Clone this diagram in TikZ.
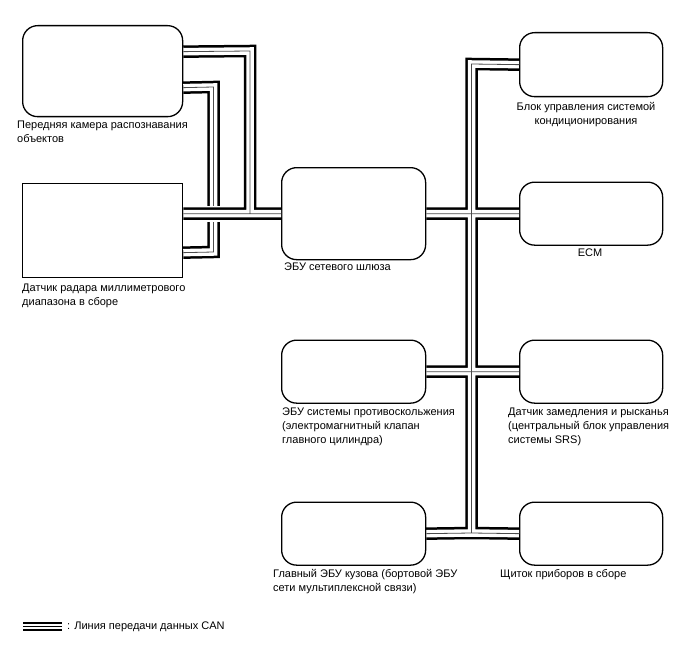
\documentclass[tikz,border=0pt]{standalone}
\usepackage{fontspec}
\setmainfont{Liberation Sans}
\usetikzlibrary{positioning}

\begin{document}
\begin{tikzpicture}[
  x=1pt, y=-1pt,
  font=\fontsize{11}{14}\selectfont,
  unit/.style={draw, line width=1.3pt, rounded corners=15pt, anchor=north west,
               inner sep=0pt},
  plainunit/.style={unit, rounded corners=0pt},
  lbl/.style={anchor=north west, align=left, inner sep=0pt},
  clbl/.style={lbl, anchor=north, align=center},
  canblk/.style={line width=12.5pt, black},
  canwht/.style={line width=7.5pt, white},
  canmid/.style={line width=0.8pt, black!70},
  cangap/.style={line width=16pt, white}
]
\useasboundingbox (0,0) rectangle (688,658);

% Nodes
\node[unit, minimum width=160pt, minimum height=91pt] (cam) at (22,25) {};
\node[plainunit, minimum width=160pt, minimum height=94pt] (rad) at (22,183) {};
\node[unit, minimum width=144pt, minimum height=92pt] (gw) at (281,167) {};
\node[unit, minimum width=144pt, minimum height=63pt] (abs) at (281,339.5) {};
\node[unit, minimum width=144pt, minimum height=63pt] (body) at (281,501.5) {};
\node[unit, minimum width=143pt, minimum height=64pt] (acu) at (519,32) {};
\node[unit, minimum width=143pt, minimum height=63pt] (ecm) at (519,181.5) {};
\node[unit, minimum width=143pt, minimum height=63pt] (yaw) at (519,339.5) {};
\node[unit, minimum width=143pt, minimum height=63pt] (inst) at (519,501.5) {};

% Labels
\node[lbl] (camlbl) at (17,121) {Передняя камера распознавания\\объектов};
\node[lbl] (radlbl) at (22,284) {Датчик радара миллиметрового\\диапазона в сборе};
\node[lbl] (gwlbl) at (284,263) {ЭБУ сетевого шлюза};
\node[clbl] (aculbl) at (586,102) {Блок управления системой\\кондиционирования};
\node[clbl] (ecmlbl) at (590,249) {ECM};
\node[lbl] (abslbl) at (282,408) {ЭБУ системы противоскольжения\\(электромагнитный клапан\\главного цилиндра)};
\node[lbl] (yawlbl) at (508,408) {Датчик замедления и рысканья\\(центральный блок управления\\системы SRS)};
\node[lbl] (bodylbl) at (273,569) {Главный ЭБУ кузова (бортовой ЭБУ\\сети мультиплексной связи)};
\node[lbl] (instlbl) at (500,569) {Щиток приборов в сборе};

% Bends of the CAN lines
\coordinate (ka) at (250,51);
\coordinate (kd) at (250,213);
\coordinate (kb) at (213.5,87);
\coordinate (kc) at (213.5,252);
\coordinate (ntop) at (471.5,64);
\coordinate (nbot) at (471.5,533);

% Camera - radar line (passes under the gateway line)
\draw[canblk] ([yshift=-16.5pt]cam.east) -- (kb) -- (kc) -- ([yshift=-22pt]rad.east);
\draw[canwht] ([yshift=-16.5pt]cam.east) -- (kb) -- (kc) -- ([yshift=-22pt]rad.east);
\draw[canmid] ([yshift=-16.5pt]cam.east) -- (kb) -- (kc) -- ([yshift=-22pt]rad.east);

% Camera / radar - gateway
\draw[cangap] ([yshift=17pt]rad.east) -- (gw.west);
\draw[canblk] ([yshift=17pt]rad.east) -- (gw.west) ([yshift=19.5pt]cam.east) -- (ka) -- (kd);
\draw[canwht] ([yshift=17pt]rad.east) -- (gw.west) ([yshift=19.5pt]cam.east) -- (ka) -- (kd);
\draw[canmid] ([yshift=17pt]rad.east) -- (gw.west) ([yshift=19.5pt]cam.east) -- (ka) -- (kd);

% Main bus
\draw[canblk] (acu.west) -- (ntop) -- (nbot) -- (inst.west) (gw.east) -- (ecm.west)
  (abs.east) -- (yaw.west) (body.east) -- (nbot);
\draw[canwht] (acu.west) -- (ntop) -- (nbot) -- (inst.west) (gw.east) -- (ecm.west)
  (abs.east) -- (yaw.west) (body.east) -- (nbot);
\draw[canmid] (acu.west) -- (ntop) -- (nbot) -- (inst.west) (gw.east) -- (ecm.west)
  (abs.east) -- (yaw.west) (body.east) -- (nbot);

% Legend
\coordinate (lga) at (23,626.5);
\coordinate (lgb) at (62,626.5);
\draw[canblk, line width=9.5pt] (lga) -- (lgb);
\draw[canwht, line width=5.5pt] (lga) -- (lgb);
\draw[canmid, line width=1pt, black] (lga) -- (lgb);
\node[lbl, anchor=west] (lgtxt) at (67,626.5) {: Линия передачи данных CAN};

\end{tikzpicture}
\end{document}
